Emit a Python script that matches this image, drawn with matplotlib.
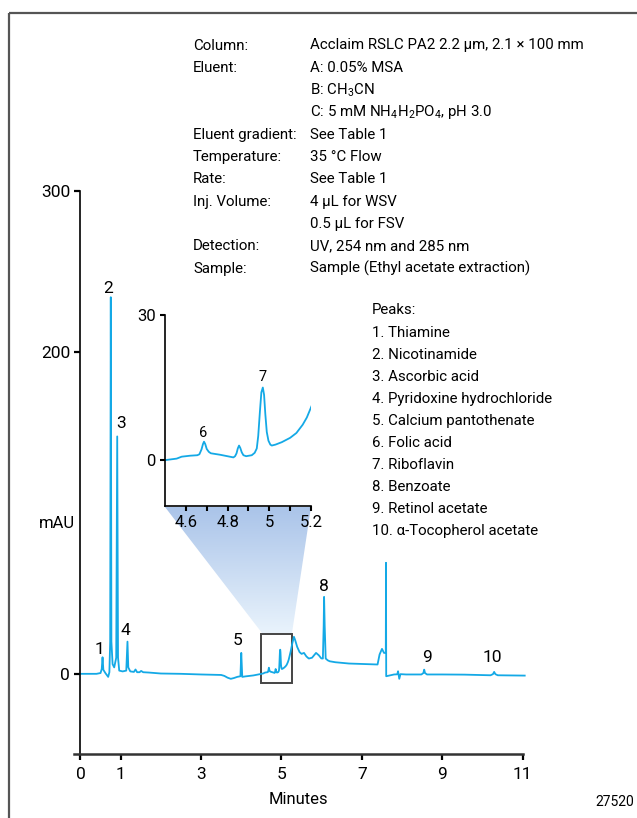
import matplotlib
matplotlib.use("Agg")
import matplotlib.pyplot as plt
import numpy as np
from matplotlib.patches import Rectangle, Polygon
from matplotlib.colors import LinearSegmentedColormap
from matplotlib.ticker import FixedLocator, FuncFormatter

plt.rcParams['font.family'] = ['Roboto', 'DejaVu Sans']

# chromatogram trace (minutes, mAU)
times = [0.00, 0.40, 0.50, 0.53, 0.55, 0.57, 0.62, 0.69, 0.72, 0.74, 0.755, 0.77,
         0.80, 0.84, 0.89, 0.915, 0.935, 0.965, 1.05, 1.14, 1.17, 1.19, 1.24, 1.33,
         1.37, 1.41, 1.47, 1.51, 1.56, 1.70, 2.00, 2.50, 3.00, 3.50, 3.58, 3.66,
         3.74, 3.82, 3.90, 3.98, 4.00, 4.025, 4.10, 4.30, 4.45, 4.505, 4.556, 4.58,
         4.62, 4.655, 4.665, 4.675, 4.682, 4.687, 4.693, 4.70, 4.71, 4.72, 4.764,
         4.80, 4.828, 4.836, 4.843, 4.849, 4.855, 4.861, 4.868, 4.876, 4.889, 4.916,
         4.93, 4.94, 4.947, 4.955, 4.962, 4.969, 4.975, 4.981, 4.988, 4.996, 5.005,
         5.012, 5.03, 5.06, 5.10, 5.13, 5.16, 5.18, 5.20, 5.23, 5.27, 5.31, 5.34,
         5.39, 5.45, 5.50, 5.56, 5.62, 5.68, 5.76, 5.86, 5.93, 5.99, 6.03, 6.05,
         6.06, 6.075, 6.10, 6.15, 6.20, 6.34, 6.68, 6.92, 7.20, 7.39, 7.44, 7.50,
         7.55, 7.595, 7.60, 7.605, 7.80, 7.88, 7.90, 7.93, 7.96, 8.10, 8.48, 8.53,
         8.55, 8.57, 8.62, 9.00, 9.55, 10.20, 10.26, 10.29, 10.32, 10.38, 11.05]
mau = [0.0, 0.0, 0.5, 3.0, 10.3, 2.5, 0.5, -1.9, 1.0, 20.0, 234.0, 20.0,
       6.0, 4.0, 10.0, 147.5, 10.0, 2.0, 1.5, 2.0, 20.0, 4.0, 1.5, 1.2,
       2.7, 1.0, 1.0, 1.8, 1.0, 0.8, 0.2, 0.0, -0.4, -0.7, -1.3, -2.4,
       -3.1, -2.6, -1.9, -1.5, 13.0, -1.9, -1.6, -1.0, -0.3, 0.0, 0.3, 0.7,
       0.9, 1.0, 1.2, 2.2, 3.3, 3.8, 3.3, 2.3, 1.7, 1.4, 1.1,
       0.8, 0.55, 0.8, 1.4, 2.4, 3.0, 2.5, 1.6, 1.0, 0.8, 1.0,
       1.5, 2.4, 5.0, 10.0, 14.0, 15.0, 13.5, 9.5, 5.8, 4.0, 3.2,
       3.0, 3.2, 3.7, 4.6, 5.6, 7.3, 8.8, 10.9, 14.0, 19.0, 23.0, 21.0,
       16.8, 13.5, 12.4, 13.0, 10.8, 9.5, 10.0, 13.0, 11.5, 9.6, 9.5, 30.0,
       47.8, 30.0, 9.5, 8.4, 7.8, 7.2, 6.4, 6.2, 5.9, 5.8, 12.0, 15.5,
       13.0, 13.0, 69.0, -1.5, -0.4, -0.3, 1.6, -3.1, -0.2, -0.4, -0.4, 0.5,
       2.6, 0.5, -0.4, -0.4, -0.5, -0.9, -0.2, 1.2, -0.2, -0.9, -1.1]

# peak numbers and where their labels sit (minutes, mAU)
main_labels = ["1", "2", "3", "4", "5", "8", "9", "10"]
main_label_x = [0.47, 0.69, 1.00, 1.13, 3.91, 6.06, 8.61, 10.25]
main_label_y = [15.1, 239.6, 155.6, 26.9, 20.7, 54.4, 9.9, 9.9]
inset_labels = ["6", "7"]
inset_label_x = [4.684, 4.969]
inset_label_y = [5.5, 17.1]

x_ticks = [0, 1, 3, 5, 7, 9, 11]
y_ticks = [0, 200, 300]

cond_names = ["Column:", "Eluent:", "", "", "Eluent gradient:", "Temperature:",
              "Rate:", "Inj. Volume:", "", "Detection:", "Sample:"]
cond_values = ["Acclaim RSLC PA2 2.2 \u00b5m, 2.1 \u00d7 100 mm",
               "A: 0.05% MSA",
               r"B: CH$_\mathregular{3}$CN",
               r"C: 5 mM NH$_\mathregular{4}$H$_\mathregular{2}$PO$_\mathregular{4}$, pH 3.0",
               "See Table 1",
               "35 \u00b0C Flow",
               "See Table 1",
               "4 \u00b5L for WSV",
               "0.5 \u00b5L for FSV",
               "UV, 254 nm and 285 nm",
               "Sample (Ethyl acetate extraction)"]
peak_names = ["Peaks:", "1. Thiamine", "2. Nicotinamide", "3. Ascorbic acid",
              "4. Pyridoxine hydrochloride", "5. Calcium pantothenate",
              "6. Folic acid", "7. Riboflavin", "8. Benzoate", "9. Retinol acetate",
              "10. \u03b1-Tocopherol acetate"]

W, H = 637, 818
trace_color = '#14a9e6'
txt_size = 10.8

fig = plt.figure(figsize=(W / 100, H / 100), dpi=100)


def px(x, y):
    return x / W, 1 - y / H


# main chromatogram
ax = fig.add_axes([74 / W, 1 - 754.3 / H, (522.7 - 74) / W, (754.3 - 191) / H])
ax.set_zorder(1)
ax.plot(times, mau, color=trace_color, lw=1.3, clip_on=False)
ax.set_xlim(-0.16, 11)
ax.set_ylim(-50, 300)
ax.spines['top'].set_visible(False)
ax.spines['right'].set_visible(False)
ax.spines['left'].set_position(('data', 0))
ax.spines['left'].set_linewidth(1.2)
ax.spines['bottom'].set_linewidth(1.8)
ax.spines['bottom'].set_color('#333333')
ax.set_xticks(x_ticks)
ax.set_yticks(y_ticks)
ax.tick_params(axis='both', direction='out', length=4.5, width=1.6, labelsize=12.5)
ax.tick_params(axis='y', pad=3)
ax.tick_params(axis='x', pad=5)
ax.patch.set_alpha(0)
for lab, lx, ly in zip(main_labels, main_label_x, main_label_y):
    ax.text(lx, ly, lab, fontsize=12.5, ha='center', va='center')

# zoom box around 4.5-5.25 min
ax.add_patch(Rectangle((4.5, -6), 0.75, 31, fill=False, ec='#444444', lw=1.4))

# overlay for the frame and the shaded zoom funnel
ov = fig.add_axes([0, 0, 1, 1])
ov.set_zorder(2)
grad = np.linspace(0, 1, 256).reshape(-1, 1)
cmap = LinearSegmentedColormap.from_list('funnel', ['#aac4e9', '#e9f3fc'])
im = ov.imshow(grad, extent=(165, 311, 633, 507), cmap=cmap, aspect='auto')
funnel = Polygon([(165, 507), (311, 507), (292, 633), (262, 633)],
                 closed=True, fc='none', ec='none')
ov.add_patch(funnel)
im.set_clip_path(funnel)
ov.add_patch(Rectangle((9, 13), 800, 900, fill=False, ec='#555555', lw=1.6))
ov.set_xlim(0, W)
ov.set_ylim(H, 0)
ov.axis('off')

# inset
axi = fig.add_axes([165 / W, 1 - 506 / H, 146 / W, (506 - 315) / H])
axi.set_zorder(3)
axi.patch.set_alpha(0)
axi.plot(times, mau, color=trace_color, lw=1.3)
axi.set_xlim(4.5, 5.2)
axi.set_ylim(-9.5, 30)
axi.spines['top'].set_visible(False)
axi.spines['right'].set_visible(False)
axi.spines['left'].set_linewidth(1.2)
axi.spines['bottom'].set_linewidth(1.2)
axi.xaxis.set_major_locator(FixedLocator([4.6, 4.8, 5.0, 5.2]))
axi.xaxis.set_minor_locator(FixedLocator([4.7, 4.9, 5.1]))
axi.xaxis.set_major_formatter(FuncFormatter(lambda v, p: f"{v:g}"))
axi.set_yticks([0, 30])
axi.tick_params(axis='both', which='both', direction='out', length=3.5,
                width=1.5, labelsize=12, pad=3)
for lab, lx, ly in zip(inset_labels, inset_label_x, inset_label_y):
    axi.text(lx, ly, lab, fontsize=10.5, ha='center', va='center')

# axis titles
fig.text(*px(57, 524), "mAU", fontsize=12, ha='center', va='center')
fig.text(*px(298, 800), "Minutes", fontsize=12, ha='center', va='center')
fig.text(*px(634, 802), "27520", fontsize=10, ha='right', va='center')

# conditions block
for i, (name, val) in enumerate(zip(cond_names, cond_values)):
    yb = 44 + 22.3 * i + 5.5
    if name:
        fig.text(*px(193, yb), name, fontsize=txt_size, ha='left', va='baseline')
    fig.text(*px(310, yb), val, fontsize=txt_size, ha='left', va='baseline')

# peak list
for i, name in enumerate(peak_names):
    yb = 309 + 22.1 * i + 5.5
    fig.text(*px(372, yb), name, fontsize=txt_size, ha='left', va='baseline')

fig.savefig("out.png", dpi=100)
